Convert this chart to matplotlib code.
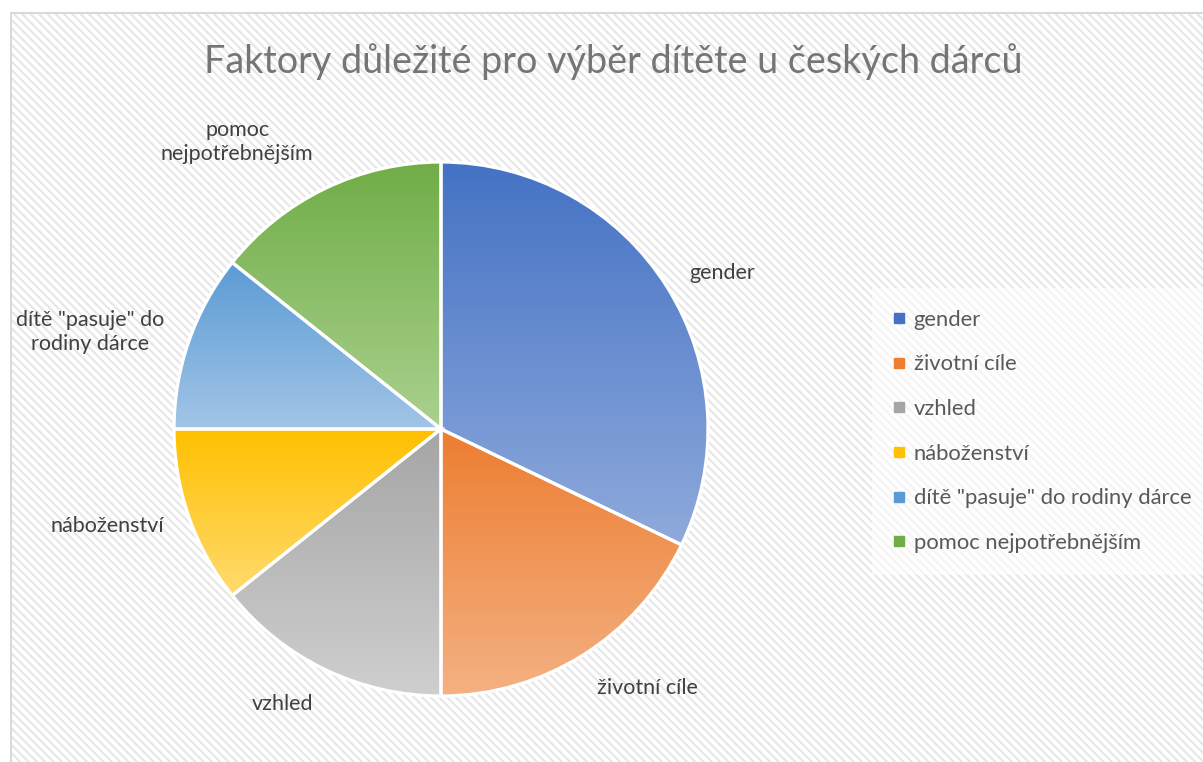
import numpy as np
import matplotlib.pyplot as plt
from matplotlib.patches import Rectangle
from matplotlib.lines import Line2D
from matplotlib.colors import to_rgb

# data
categories = ['gender', 'životní cíle', 'vzhled', 'náboženství',
              'dítě "pasuje" do rodiny dárce', 'pomoc nejpotřebnějším']
values = [9, 5, 4, 3, 3, 4]
slice_labels = ['gender', 'životní cíle', 'vzhled', 'náboženství',
                'dítě "pasuje" do\nrodiny dárce', 'pomoc\nnejpotřebnějším']
title = 'Faktory důležité pro výběr dítěte u českých dárců'

top_colors = ['#4472C4', '#ED7D31', '#A5A5A5', '#FFC000', '#5B9BD5', '#70AD47']
bottom_colors = ['#8FAADC', '#F4B183', '#CFCFCF', '#FFDA6E', '#A2C5E7', '#AAD18F']

plt.rcParams['font.family'] = ['Lato', 'DejaVu Sans']
plt.rcParams['hatch.linewidth'] = 1.5

W, H = 1203, 762
fig = plt.figure(figsize=(W / 100, H / 100), dpi=100)
fig.patch.set_facecolor('white')

# striped chart area + light border
fig.patches.append(Rectangle((11 / W, 0), 1, (H - 13) / H, transform=fig.transFigure,
                             facecolor='white', edgecolor='#e6e6e6', hatch='\\\\\\\\',
                             linewidth=0, zorder=-10))
fig.patches.append(Rectangle((11 / W, -0.01), 1, (H - 13) / H + 0.01, transform=fig.transFigure,
                             fill=False, edgecolor='#d9d9d9', linewidth=1.5, zorder=-9))

fig.text(613 / W, 1 - 62 / H, title, ha='center', va='center',
         fontsize=27.2, color='#757575')

# pie: centre (441, 429), radius 267 px
ax = fig.add_axes([174 / W, (H - 429 - 267) / H, 534 / W, 534 / H])
wedges, _ = ax.pie(values, startangle=90, counterclock=False, radius=1,
                   colors=top_colors,
                   wedgeprops=dict(edgecolor='white', linewidth=2.3))

# vertical gradient inside each slice
for w, c0, c1 in zip(wedges, top_colors, bottom_colors):
    ext = w.get_path().get_extents()
    t = np.linspace(0, 1, 256)[:, None, None]
    img = (1 - t) * np.array(to_rgb(c0)) + t * np.array(to_rgb(c1))
    im = ax.imshow(img, extent=(ext.x0, ext.x1, ext.y0, ext.y1), origin='upper',
                   aspect='auto', zorder=0, interpolation='bilinear')
    im.set_clip_path(w)
    w.set_facecolor('none')

ax.set_xlim(-1, 1)
ax.set_ylim(-1, 1)
ax.axis('off')

# outside labels
total = sum(values)
cum = 0
for v, lab in zip(values, slice_labels):
    ang = np.deg2rad(90 - (cum + v / 2) / total * 360)
    cum += v
    x, y = 1.1 * np.cos(ang), 1.1 * np.sin(ang)
    ha = 'left' if x > 0 else 'right'
    s = np.sin(ang)
    va = 'bottom' if s > 0.8 else ('top' if s < -0.8 else 'center')
    ax.text(x, y, lab, ha=ha, va=va, multialignment='center',
            fontsize=15.5, color='#404040', linespacing=1.3, clip_on=False)

handles = [Line2D([], [], marker='s', linestyle='none', markersize=6.5,
                  markerfacecolor=c, markeredgecolor=c) for c in top_colors]
leg = fig.legend(handles, categories, loc='upper left',
                 bbox_to_anchor=(861 / W, 1 - 277 / H), fontsize=15.8,
                 labelspacing=1.12, handlelength=0.5, handletextpad=0.4,
                 borderpad=1.0, frameon=True, fancybox=False)
leg.get_frame().set_facecolor('white')
leg.get_frame().set_alpha(0.6)
leg.get_frame().set_linewidth(0)
for t in leg.get_texts():
    t.set_color('#595959')

fig.savefig('out.png', dpi=100)
